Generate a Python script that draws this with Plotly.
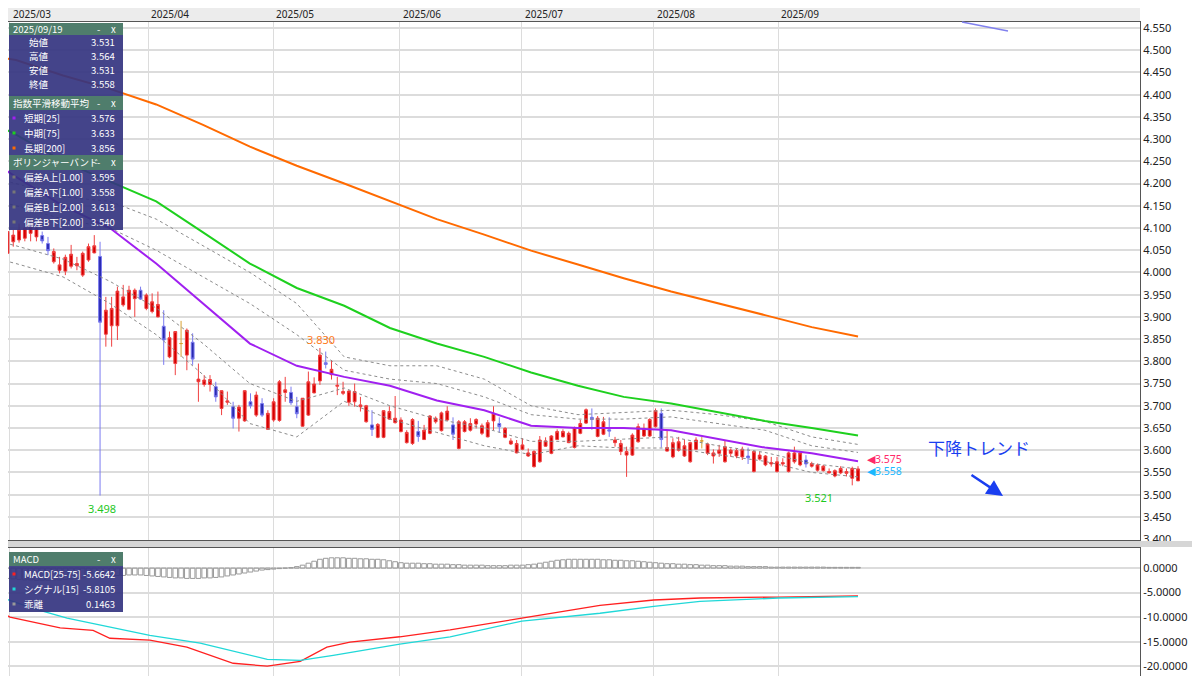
import plotly.graph_objects as go

# ---------------- data ----------------
opens = [4.066,4.043,4.069,4.073,4.077,4.088,4.08,4.083,4.065,4.024,4.005,4.003,4.014,4.015,3.994,4.028,4.044,4.036,3.861,3.88,
         3.88,3.927,3.917,3.941,3.96,3.919,3.912,3.9,3.879,3.81,3.795,3.84,3.814,3.843,3.754,3.748,3.748,3.743,3.694,3.708,
         3.698,3.672,3.666,3.709,3.679,3.705,3.647,3.668,3.667,3.73,3.73,3.698,3.654,3.679,3.729,3.756,3.797,3.77,3.744,3.728,
         3.708,3.709,3.698,3.664,3.657,3.629,3.629,3.67,3.662,3.642,3.617,3.615,3.642,3.624,3.638,3.664,3.644,3.668,3.657,3.604,
         3.642,3.645,3.659,3.638,3.63,3.666,3.66,3.629,3.614,3.594,3.602,3.587,3.563,3.574,3.609,3.593,3.624,3.63,3.617,3.606,
         3.638,3.661,3.674,3.631,3.636,3.646,3.617,3.597,3.589,3.589,3.619,3.632,3.632,3.653,3.683,3.598,3.585,3.6,3.587,3.574,
         3.602,3.621,3.593,3.587,3.593,3.574,3.593,3.587,3.585,3.587,3.552,3.58,3.567,3.569,3.552,3.569,3.552,3.574,3.567,3.578,
         3.564,3.555,3.554,3.549,3.542,3.549,3.548,3.537,3.531]
highs = [4.114,4.11,4.096,4.11,4.12,4.12,4.115,4.092,4.08,4.054,4.035,4.04,4.062,4.035,4.047,4.065,4.084,4.069,3.945,3.945,
         3.968,3.972,3.97,3.964,3.968,3.953,3.953,3.957,3.915,3.867,3.867,3.891,3.874,3.863,3.795,3.769,3.769,3.754,3.735,3.732,
         3.709,3.702,3.735,3.728,3.732,3.717,3.69,3.717,3.758,3.765,3.743,3.72,3.717,3.777,3.764,3.830,3.822,3.803,3.765,3.754,
         3.735,3.75,3.72,3.702,3.69,3.661,3.69,3.699,3.722,3.674,3.645,3.672,3.666,3.657,3.679,3.676,3.687,3.699,3.674,3.668,
         3.668,3.672,3.672,3.66,3.668,3.699,3.674,3.652,3.627,3.623,3.627,3.604,3.6,3.632,3.629,3.634,3.647,3.647,3.642,3.653,
         3.668,3.694,3.694,3.677,3.675,3.674,3.63,3.623,3.608,3.638,3.66,3.66,3.672,3.694,3.694,3.646,3.627,3.63,3.623,3.619,
         3.629,3.63,3.617,3.602,3.612,3.623,3.604,3.604,3.608,3.606,3.6,3.597,3.589,3.585,3.585,3.582,3.597,3.608,3.597,3.589,
         3.574,3.57,3.567,3.559,3.557,3.564,3.559,3.563,3.564]
lows = [4.062,4.034,4.058,4.067,4.07,4.07,4.07,4.065,4.039,4.02,3.998,3.994,4.009,4.005,3.99,4.024,4.043,3.498,3.833,3.833,
        3.848,3.923,3.915,3.9,3.938,3.915,3.908,3.899,3.792,3.807,3.769,3.81,3.78,3.792,3.709,3.743,3.732,3.709,3.679,3.702,
        3.649,3.642,3.664,3.694,3.675,3.675,3.646,3.664,3.664,3.709,3.702,3.672,3.653,3.677,3.728,3.747,3.784,3.759,3.724,3.724,
        3.7,3.698,3.687,3.662,3.632,3.627,3.627,3.668,3.66,3.64,3.615,3.612,3.619,3.623,3.636,3.66,3.642,3.666,3.623,3.602,
        3.64,3.642,3.649,3.634,3.629,3.645,3.64,3.627,3.612,3.593,3.6,3.585,3.561,3.572,3.608,3.591,3.623,3.629,3.616,3.604,
        3.636,3.659,3.646,3.629,3.634,3.63,3.608,3.589,3.54,3.587,3.617,3.63,3.63,3.651,3.606,3.597,3.582,3.597,3.585,3.572,
        3.6,3.604,3.589,3.57,3.585,3.572,3.585,3.582,3.578,3.569,3.55,3.577,3.564,3.563,3.55,3.564,3.55,3.57,3.564,3.561,
        3.561,3.552,3.552,3.548,3.539,3.546,3.541,3.521,3.531]
closes = [4.096,4.092,4.084,4.096,4.099,4.103,4.099,4.071,4.049,4.047,4.017,4.034,4.041,4.02,4.043,4.058,4.06,3.888,3.915,3.919,
          3.958,3.945,3.96,3.96,3.94,3.949,3.934,3.928,3.848,3.853,3.867,3.84,3.87,3.805,3.76,3.758,3.759,3.72,3.734,3.711,
          3.672,3.697,3.734,3.7,3.724,3.679,3.683,3.709,3.754,3.736,3.707,3.682,3.717,3.754,3.749,3.814,3.793,3.782,3.746,3.732,
          3.733,3.732,3.702,3.7,3.647,3.658,3.689,3.687,3.672,3.668,3.64,3.669,3.631,3.645,3.677,3.672,3.684,3.688,3.636,3.664,
          3.664,3.66,3.669,3.655,3.662,3.683,3.653,3.649,3.621,3.615,3.612,3.594,3.597,3.623,3.621,3.632,3.642,3.642,3.638,3.651,
          3.66,3.691,3.669,3.672,3.664,3.643,3.623,3.615,3.597,3.634,3.653,3.649,3.669,3.689,3.624,3.606,3.617,3.619,3.61,3.617,
          3.623,3.621,3.614,3.594,3.6,3.608,3.6,3.599,3.602,3.583,3.597,3.589,3.587,3.572,3.574,3.572,3.594,3.594,3.594,3.569,
          3.57,3.567,3.564,3.552,3.554,3.559,3.552,3.559,3.558]

month_pos = [1.43, 25.3, 46.9, 68.8, 89.9, 112.7, 134.2]
month_labels = ["2025/03", "2025/04", "2025/05", "2025/06", "2025/07", "2025/08", "2025/09"]

ind_x = [-0.55, 2.47, 10.6, 18.7, 26.7, 34.8, 42.9, 51.0, 59.2, 67.1, 75.2, 83.4, 91.5, 99.6, 107.5, 115.7, 123.8, 131.9, 140.0, 148]
ema_short = [4.24, 4.215, 4.15, 4.10, 4.02, 3.93, 3.84, 3.79, 3.765, 3.745, 3.712, 3.69, 3.655, 3.65, 3.65, 3.645, 3.625, 3.606, 3.593, 3.575]
ema_mid = [4.33, 4.31, 4.25, 4.205, 4.16, 4.09, 4.02, 3.965, 3.925, 3.875, 3.84, 3.81, 3.775, 3.745, 3.72, 3.705, 3.685, 3.666, 3.65, 3.633]
ema_long = [4.484, 4.478, 4.443, 4.413, 4.378, 4.332, 4.283, 4.24, 4.2, 4.16, 4.12, 4.085, 4.049, 4.018, 3.987, 3.957, 3.931, 3.904, 3.877, 3.856]
bb_up2 = [4.21, 4.20, 4.17, 4.16, 4.12, 4.06, 4.00, 3.93, 3.81, 3.79, 3.79, 3.76, 3.70, 3.68, 3.685, 3.69, 3.68, 3.665, 3.63, 3.613]
bb_up1 = [4.16, 4.15, 4.12, 4.10, 4.05, 3.99, 3.93, 3.86, 3.78, 3.76, 3.75, 3.72, 3.68, 3.67, 3.67, 3.675, 3.66, 3.645, 3.61, 3.595]
bb_dn1 = [4.07, 4.06, 4.03, 3.98, 3.92, 3.84, 3.75, 3.71, 3.74, 3.70, 3.67, 3.65, 3.62, 3.62, 3.625, 3.63, 3.61, 3.595, 3.57, 3.558]
bb_dn2 = [4.03, 4.02, 3.99, 3.93, 3.86, 3.77, 3.66, 3.63, 3.71, 3.67, 3.64, 3.61, 3.59, 3.61, 3.605, 3.605, 3.59, 3.575, 3.55, 3.540]

macd_x = [-0.3, 1.43, 10.1, 15.8, 18.7, 25.6, 32.0, 40.0, 45.9, 51.6, 56.2, 60.2, 68.8, 77.5, 89.9, 103.4, 112.7, 120.7, 134.2, 148]
macd_v = [-8.8, -10.0, -12.2, -12.7, -14.3, -14.7, -16.1, -19.4, -20.0, -19.0, -16.1, -15.1, -14.0, -12.6, -10.2, -7.6, -6.5, -6.1, -5.9, -5.6642]
sig_x = [-0.3, 5.4, 11.3, 17.0, 25.6, 34.3, 45.9, 51.6, 57.3, 68.8, 77.5, 89.9, 103.4, 112.7, 120.7, 134.2, 148]
sig_v = [-5.9, -8.2, -10.2, -11.6, -13.7, -15.3, -18.6, -18.8, -17.8, -15.5, -14.0, -10.8, -9.2, -7.8, -6.8, -6.1, -5.8105]
hist_v = [-2.0,-2.1,-2.2,-2.3,-2.4,-2.4,-2.5,-2.5,-2.5,-2.4,-2.4,
          -2.3,-2.2,-2.1,-2.0,-1.9,-1.8,-1.7,-1.6,-1.6,-1.5,
          -1.5,-1.4,-1.4,-1.4,-1.5,-1.6,-1.7,-1.8,-1.9,-2.0,
          -2.0,-2.1,-2.1,-2.1,-2.0,-2.0,-1.9,-1.8,-1.6,-1.4,
          -1.2,-1.0,-0.8,-0.6,-0.4,-0.3,-0.2,-0.1,0.0,0.1,
          0.3,0.6,1.0,1.4,1.8,2.0,2.1,2.1,2.1,2.0,
          2.0,1.9,1.9,1.8,1.8,1.7,1.5,1.3,1.1,1.0,
          1.0,1.0,0.9,0.9,0.8,0.8,0.8,0.7,0.7,0.6,
          0.6,0.6,0.6,0.5,0.5,0.5,0.5,0.6,0.6,0.6,
          0.7,0.8,1.0,1.2,1.4,1.6,1.7,1.8,1.8,1.8,
          1.8,1.8,1.8,1.7,1.7,1.6,1.6,1.5,1.5,1.4,
          1.3,1.2,1.1,1.0,0.9,0.9,0.8,0.8,0.7,0.7,
          0.6,0.6,0.5,0.5,0.5,0.4,0.4,0.4,0.3,0.3,
          0.3,0.3,0.2,0.2,0.2,0.2,0.2,0.2,0.2,0.2,
          0.2,0.2,0.15,0.15,0.15,0.15,0.15,0.15]

# ---------------- figure ----------------
OFF = 8
W, H = 1200 - OFF, 676 - OFF
TOP = 22  # page y of plot top
ML, MR, MT, MB = 0, 60, TOP - OFF, 0
PW, PH = W - ML - MR, H - MT - MB
def X(px): return (px - OFF - ML) / PW
def Y(py): return (676 - MB - py) / PH

n = len(closes)
idx = list(range(n))
fig = go.Figure()

def cs(sel, color_line, color_fill, name):
    xs = [i for i in idx if sel(i)]
    fig.add_trace(go.Candlestick(
        x=xs, open=[opens[i] for i in xs], high=[highs[i] for i in xs],
        low=[lows[i] for i in xs], close=[closes[i] for i in xs],
        increasing=dict(line=dict(color=color_line, width=1), fillcolor=color_fill),
        decreasing=dict(line=dict(color=color_line, width=1), fillcolor=color_fill),
        whiskerwidth=0, showlegend=False, name=name, xaxis="x", yaxis="y"))

for arr in (bb_up2, bb_up1, bb_dn1, bb_dn2):
    fig.add_trace(go.Scatter(x=ind_x, y=arr, mode="lines", line=dict(color="#8c8c8c", width=1, dash="dot"),
                             showlegend=False, hoverinfo="skip"))
cs(lambda i: closes[i] > opens[i], "#f04040", "#d40000", "up")
cs(lambda i: closes[i] < opens[i], "#7a7af0", "#2a2ab0", "down")
cs(lambda i: closes[i] == opens[i], "#d8a030", "#d8a030", "doji")
for arr, col in ((ema_long, "#ff6a00"), (ema_mid, "#1ed01e"), (ema_short, "#a020f0")):
    fig.add_trace(go.Scatter(x=ind_x, y=arr, mode="lines", line=dict(color=col, width=2), showlegend=False))

fig.add_trace(go.Bar(x=idx, y=hist_v, marker=dict(color="rgba(0,0,0,0)", line=dict(color="#9a9a9a", width=1)),
                     width=0.8, xaxis="x2", yaxis="y2", showlegend=False))
fig.add_trace(go.Scatter(x=macd_x, y=macd_v, mode="lines", line=dict(color="#ff2020", width=1.3),
                         xaxis="x2", yaxis="y2", showlegend=False))
fig.add_trace(go.Scatter(x=sig_x, y=sig_v, mode="lines", line=dict(color="#20d8d8", width=1.3),
                         xaxis="x2", yaxis="y2", showlegend=False))

xr = [(OFF - 1.7) / 5.786, (1140 - 1.7) / 5.786]
ytick_main = [round(3.40 + 0.05 * k, 3) for k in range(24)]
grid = "#dcdcdc"
ytop = 4.550 + (28 - TOP) * 0.00225
fig.update_layout(
    width=W, height=H, margin=dict(l=ML, r=MR, t=MT, b=MB, autoexpand=False),
    paper_bgcolor="white", plot_bgcolor="white",
    font=dict(family="Noto Sans CJK JP, Noto Sans, sans-serif", size=11, color="#222"),
    xaxis=dict(domain=[0, 1], range=xr, anchor="y", tickvals=month_pos, showticklabels=False,
               showgrid=True, gridcolor=grid, zeroline=False, rangeslider=dict(visible=False),
               showline=True, linecolor="#555", mirror=True),
    yaxis=dict(domain=[Y(540), 1], range=[3.398, ytop], side="right", tickvals=ytick_main,
               ticktext=[f"{v:.3f}" for v in ytick_main], gridcolor=grid, gridwidth=1.5, zeroline=False,
               showline=True, linecolor="#555", mirror=True, ticks="", tickfont=dict(size=11, family="Noto Sans")),
    xaxis2=dict(domain=[0, 1], range=xr, anchor="y2", tickvals=month_pos, showticklabels=False,
                showgrid=True, gridcolor=grid, zeroline=False, showline=True, linecolor="#555", mirror=True),
    yaxis2=dict(domain=[0, Y(548)], range=[-22.0, 4.1], side="right", tickvals=[0, -5, -10, -15, -20],
                ticktext=["0.0000", "-5.0000", "-10.0000", "-15.0000", "-20.0000"], gridcolor=grid, gridwidth=1.5,
                zeroline=False, showline=True, linecolor="#555", mirror=True, tickfont=dict(size=11, family="Noto Sans")),
)

shapes, ann = [], []
shapes.append(dict(type="rect", xref="paper", yref="paper", x0=0, x1=1 + MR / PW, y0=Y(547), y1=Y(541),
                   fillcolor="#d6d6d6", line=dict(width=0), layer="above"))
shapes.append(dict(type="rect", xref="paper", yref="paper", x0=0, x1=1, y0=Y(TOP), y1=Y(8),
                   fillcolor="#ececec", line=dict(width=0), layer="below"))
for p, t in zip(month_pos, month_labels):
    ann.append(dict(x=p, y=Y(TOP), xref="x", yref="paper", text=t, showarrow=False, xanchor="left",
                    yanchor="bottom", xshift=1, yshift=-1, font=dict(size=10, color="#222", family="Noto Sans")))

HDR, BODY = "#4f7d6c", "rgba(52,52,128,0.92)"
def box(y0, y1, color):
    shapes.append(dict(type="rect", xref="paper", yref="paper", x0=X(9), x1=X(123), y0=Y(y1), y1=Y(y0),
                       fillcolor=color, line=dict(width=0), layer="above"))
def txt(px, py, s, anchor="left", color="white", size=9.5):
    ann.append(dict(x=X(px), y=Y(py), xref="paper", yref="paper", text=s, showarrow=False, xanchor=anchor,
                    yanchor="middle", font=dict(size=size, color=color)))
def header(y0, y1, title):
    box(y0, y1, HDR)
    txt(11, (y0 + y1) / 2, title)
    txt(98, (y0 + y1) / 2, "-", "center")
    txt(113, (y0 + y1) / 2, "x", "center")
def dot(px, py, col):
    shapes.append(dict(type="rect", xref="paper", yref="paper", x0=X(px - 1.5), x1=X(px + 1.5),
                       y0=Y(py + 1.5), y1=Y(py - 1.5), fillcolor=col, line=dict(width=0), layer="above"))

box(35, 96, BODY); header(23, 35, "2025/09/19")
for py, lab, val in ((42, "始値", "3.531"), (56, "高値", "3.564"), (70, "安値", "3.531"), (84, "終値", "3.558")):
    txt(27, py, lab); txt(117, py, val, "right")
box(110, 155, BODY); header(96, 110, "指数平滑移動平均")
for py, lab, val, col in ((118, "短期[25]", "3.576", "#a020f0"), (133, "中期[75]", "3.633", "#1ed01e"),
                          (148, "長期[200]", "3.856", "#ff6a00")):
    dot(14, py, col); txt(22, py, lab); txt(117, py, val, "right")
box(170, 230, BODY); header(155, 170, "ボリンジャーバンド")
for py, lab, val in ((177, "偏差A上[1.00]", "3.595"), (192, "偏差A下[1.00]", "3.558"),
                     (207, "偏差B上[2.00]", "3.613"), (222, "偏差B下[2.00]", "3.540")):
    dot(14, py, "#777"); txt(22, py, lab); txt(117, py, val, "right")
box(566, 612, BODY); header(552, 566, "MACD")
for py, lab, val, col in ((574, "MACD[25-75]", "-5.6642", "#ff2020"), (589, "シグナル[15]", "-5.8105", "#20d8d8"),
                          (604, "乖離", "0.1463", "#999")):
    dot(14, py, col); txt(22, py, lab); txt(117, py, val, "right")

ann.append(dict(x=X(86), y=3.498, xref="paper", yref="y", text="3.498", showarrow=False, yshift=-13,
                font=dict(size=11, color="#1ec81e", family="Noto Sans")))
ann.append(dict(x=X(305), y=3.830, xref="paper", yref="y", text="3.830", showarrow=False, yshift=9,
                font=dict(size=11, color="#ff7a1a", family="Noto Sans")))
ann.append(dict(x=X(835), y=3.521, xref="paper", yref="y", text="3.521", showarrow=False, yshift=-12,
                font=dict(size=11, color="#1ec81e", family="Noto Sans")))
ann.append(dict(x=X(865), y=3.575, xref="paper", yref="y", text="◀3.575", showarrow=False, xanchor="left",
                yshift=2, font=dict(size=10.5, color="#ff2a6a", family="Noto Sans")))
ann.append(dict(x=X(865), y=3.558, xref="paper", yref="y", text="◀3.558", showarrow=False, xanchor="left",
                yshift=-2, font=dict(size=10.5, color="#1ab8ff", family="Noto Sans")))
ann.append(dict(x=X(926), y=Y(447), xref="paper", yref="paper", text="下降トレンド", showarrow=False,
                xanchor="left", font=dict(size=17, color="#1a3ef0")))
ann.append(dict(x=X(1003), y=Y(496), xref="paper", yref="paper", ax=-33, ay=-22, text="", showarrow=True,
                arrowhead=2, arrowsize=1.3, arrowwidth=2.5, arrowcolor="#1a3ef0"))
shapes.append(dict(type="line", xref="paper", yref="paper", x0=X(962), y0=Y(TOP), x1=X(1008), y1=Y(31),
                   line=dict(color="#8080ee", width=1.5)))

fig.update_layout(shapes=shapes, annotations=ann)
fig.write_html("out.html")
